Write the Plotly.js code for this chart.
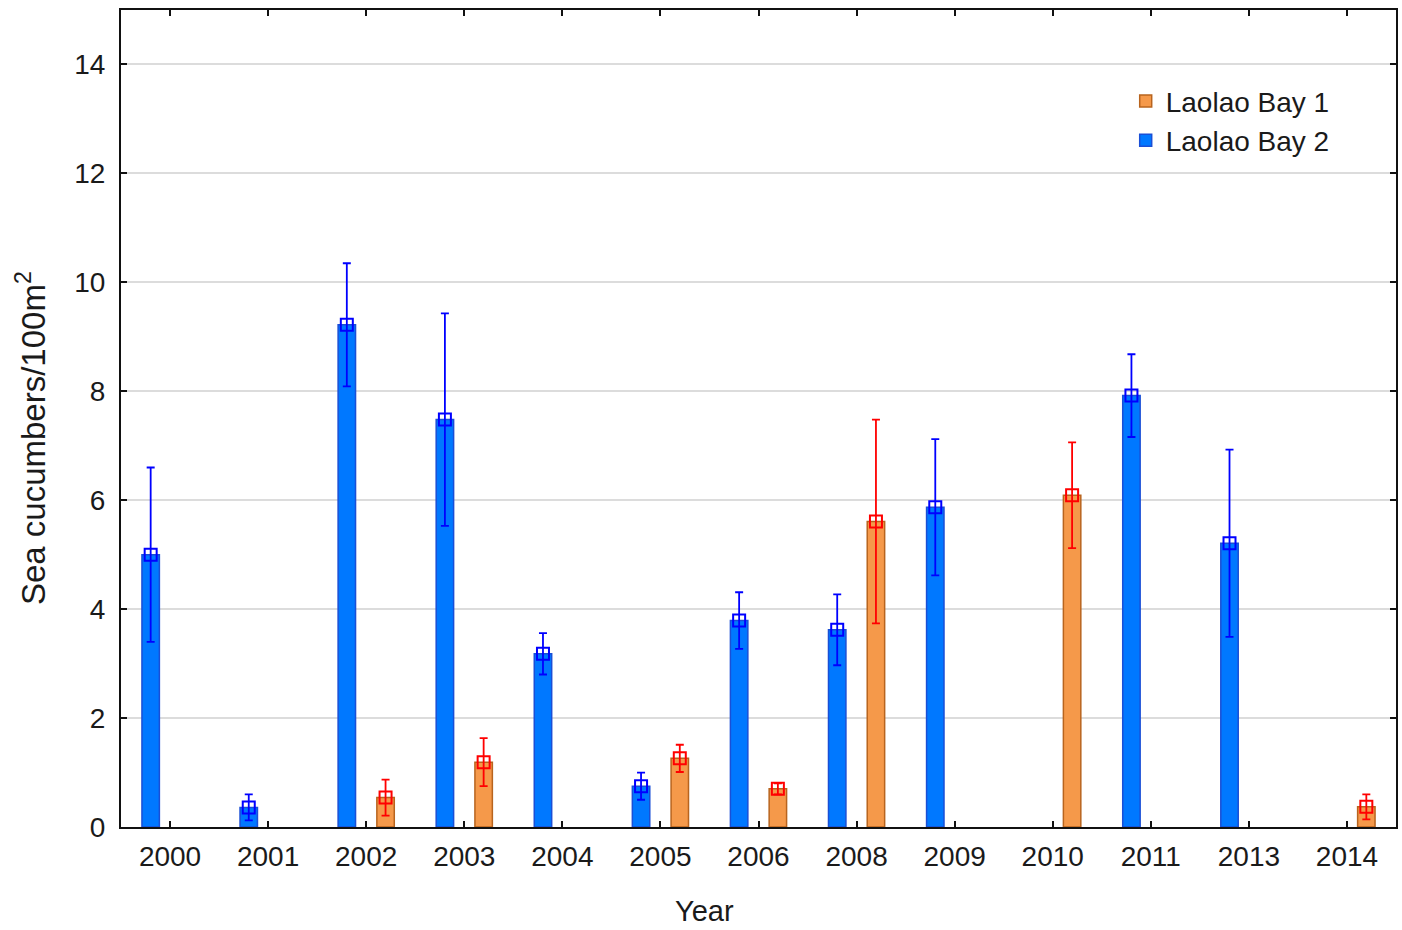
<!DOCTYPE html>
<html>
<head>
<meta charset="utf-8">
<script src="https://cdn.plot.ly/plotly-3.0.1.min.js"></script>
<style>html,body{margin:0;padding:0;background:#fff;}#chart{width:1402px;height:930px;}</style>
</head>
<body>
<div id="chart"></div>
<script>
const years = ['2000','2001','2002','2003','2004','2005','2006','2008','2009','2010','2011','2013','2014'];
const bay2Mean = [5.0, 0.36, 9.22, 7.48, 3.18, 0.75, 3.79, 3.62, 5.87, null, 7.92, 5.21, null];
const bay2Err  = [1.6, 0.24, 1.13, 1.95, 0.38, 0.25, 0.52, 0.65, 1.25, null, 0.76, 1.72, null];
const bay1Mean = [null, null, 0.54, 1.19, null, 1.26, 0.70, 5.61, null, 6.09, null, null, 0.37];
const bay1Err  = [null, null, 0.33, 0.44, null, 0.25, 0.10, 1.87, null, 0.97, null, null, 0.23];

const blueFill = '#0078ff', blueLine = '#1a4fd6', blueMark = '#0000ff';
const orFill = '#f5994a', orLine = '#b8641e', orMark = '#ff0000';

const traces = [
  {type:'bar', name:'Laolao Bay 2', x:years, y:bay2Mean, offsetgroup:'b2', legendrank:2,
   marker:{color:blueFill, line:{color:blueLine, width:1.5}}, hoverinfo:'x+y'},
  {type:'bar', name:'Laolao Bay 1', x:years, y:bay1Mean, offsetgroup:'b1', legendrank:1,
   marker:{color:orFill, line:{color:orLine, width:1.5}}, hoverinfo:'x+y'},
  {type:'scatter', mode:'markers', x:years, y:bay2Mean, offsetgroup:'b2', showlegend:false,
   marker:{symbol:'square-open', size:12, color:blueMark, line:{width:2}},
   error_y:{type:'data', array:bay2Err, visible:true, color:blueMark, thickness:1.8, width:4}},
  {type:'scatter', mode:'markers', x:years, y:bay1Mean, offsetgroup:'b1', showlegend:false,
   marker:{symbol:'square-open', size:12, color:orMark, line:{width:2}},
   error_y:{type:'data', array:bay1Err, visible:true, color:orMark, thickness:1.8, width:4}}
];

const layout = {
  width:1402, height:930,
  margin:{l:121, r:6, t:10, b:103},
  paper_bgcolor:'#fff', plot_bgcolor:'#fff',
  font:{family:'Liberation Sans, Arial, sans-serif', color:'#1a1a1a', size:28},
  barmode:'group', bargap:0.21, bargroupgap:0.55,
  scattermode:'group', scattergap:0.21,
  showlegend:true,
  legend:{x:0.788, y:0.919, xanchor:'left', yanchor:'top', bgcolor:'rgba(0,0,0,0)',
          font:{size:28, color:'#1a1a1a'}, itemwidth:30, tracegroupgap:0},
  xaxis:{type:'category', showline:true, linecolor:'#111', linewidth:2, mirror:'allticks',
         ticks:'inside', ticklen:6, tickwidth:2, tickcolor:'#111',
         showgrid:false, zeroline:false, tickfont:{size:28}, ticklabelstandoff:3},
  yaxis:{range:[0,15], tickvals:[0,2,4,6,8,10,12,14], showline:true, linecolor:'#111', linewidth:2,
         mirror:'allticks', ticks:'inside', ticklen:6, tickwidth:2, tickcolor:'#111',
         showgrid:true, gridcolor:'#dcdcdc', gridwidth:2, zeroline:false, tickfont:{size:28},
         ticklabelstandoff:8},
  annotations:[
    {text:'Year', xref:'paper', yref:'paper', x:0.458, y:-0.103, xanchor:'center', yanchor:'middle',
     showarrow:false, font:{size:29}},
    {text:'Sea cucumbers/100m<sup>2</sup>', xref:'paper', yref:'paper', x:-0.0706, y:0.476,
     xanchor:'center', yanchor:'middle', textangle:-90, showarrow:false, font:{size:33}}
  ]
};

Plotly.newPlot('chart', traces, layout, {displayModeBar:false, staticPlot:true});
</script>
</body>
</html>
